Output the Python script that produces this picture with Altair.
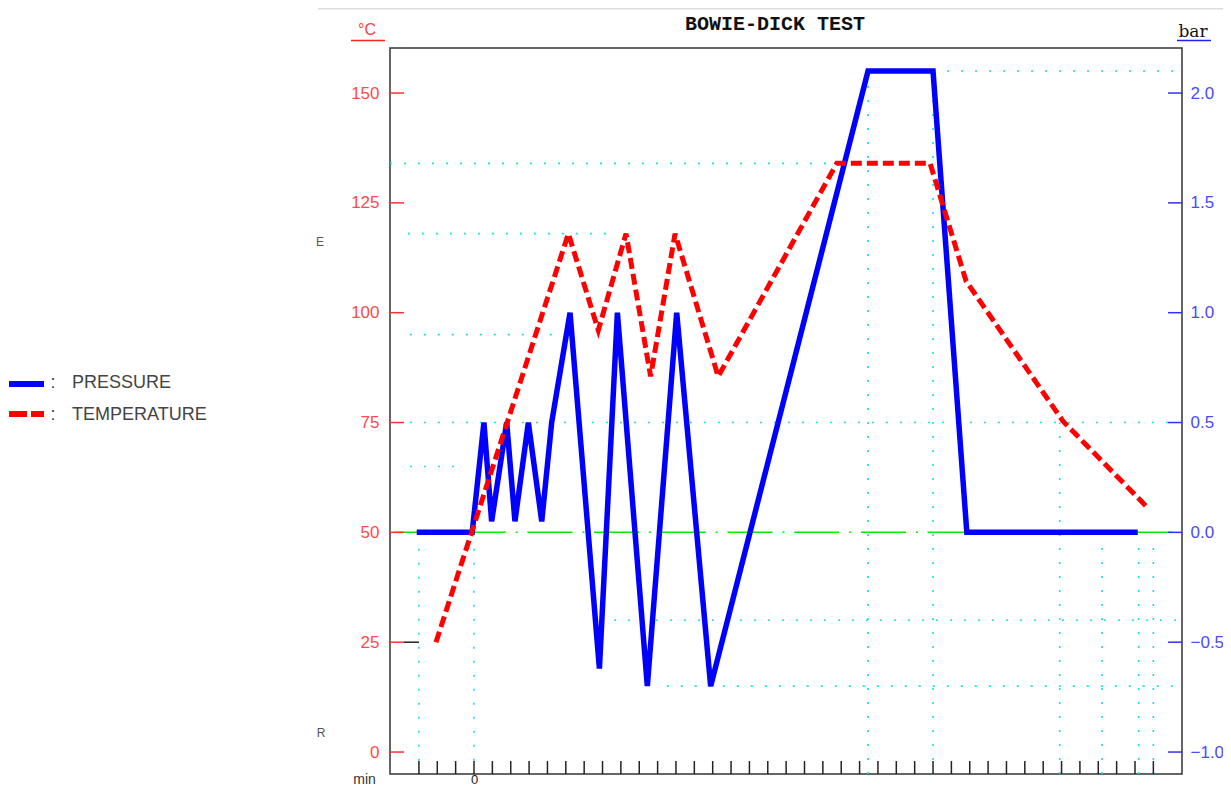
import altair as alt
import pandas as pd

# ---- data ----
# Pressure (bar) against time (min)
p_min = [-3.12, -0.1, 0.54, 0.96, 1.78, 2.23, 2.96, 3.69, 4.23, 5.23, 6.83, 7.81, 9.44, 11.04, 12.89, 21.46, 25.0, 26.84, 36.15]
p_bar = [0.0, 0.0, 0.5, 0.05, 0.5, 0.05, 0.5, 0.05, 0.5, 1.0, -0.62, 1.0, -0.7, 1.0, -0.7, 2.1, 2.1, 0.0, 0.0]

# Temperature (°C) against time (min)
t_min = [-2.07, 5.14, 6.77, 8.28, 9.62, 10.95, 13.3, 19.76, 24.84, 26.8, 32.08, 36.76]
t_c = [25, 118, 96, 118, 85.5, 118, 85.5, 134, 134, 107.2, 75.3, 55.3]

# axis values
temp_ticks = [0, 25, 50, 75, 100, 125, 150]
bar_ticks = [-1.0, -0.5, 0.0, 0.5, 1.0, 1.5, 2.0]
min_ticks = list(range(-3, 38))

# dotted reference grid segments (horizontal: level in °C, from/to minutes)
hg_T = [155, 134, 118, 95, 75, 65, 30, 15]
hg_m1 = [25.0, -4.575, -3.6, -3.5, -3.49, -3.49, 6.86, 10.5]
hg_m2 = [38.56, 19.76, 7.4, 4.5, 37.9, -1.03, 38.56, 38.56]
# vertical: minute, from/to °C
vg_m = [-3.0, 0.0, 21.46, 25.0, 31.9, 34.2, 36.2, 37.0]
vg_T1 = [-2, -2, -5, -5, -5, -5, -5, -5]
vg_T2 = [48, 48, 155, 155, 75, 48, 48, 48]

X_DOM = [-4.575, 38.56]
T_DOM = [-5, 160.25]
B_DOM = [-1.1, 2.205]

xs = alt.Scale(domain=X_DOM, nice=False, zero=False)
ts = alt.Scale(domain=T_DOM, nice=False, zero=False)
bs = alt.Scale(domain=B_DOM, nice=False, zero=False)

FONT = "Liberation Sans"

pres_df = pd.DataFrame({"min": p_min, "bar": p_bar})
temp_df = pd.DataFrame({"min": t_min, "T": t_c})
hg_df = pd.DataFrame({"T": hg_T, "m1": hg_m1, "m2": hg_m2})
vg_df = pd.DataFrame({"m": vg_m, "T1": vg_T1, "T2": vg_T2})
xt_df = pd.DataFrame({"m": min_ticks, "T1": [T_DOM[0]] * len(min_ticks), "T2": [-2.05] * len(min_ticks)})
lt_df = pd.DataFrame({"T": temp_ticks, "m1": [X_DOM[0]] * len(temp_ticks), "m2": [-3.81] * len(temp_ticks)})
ext_df = pd.DataFrame({"T": [25], "m1": [-3.81], "m2": [-3.0]})
rt_df = pd.DataFrame({"bar": bar_ticks, "m1": [37.8] * len(bar_ticks), "m2": [X_DOM[1]] * len(bar_ticks)})
zero_df = pd.DataFrame({"T": [50], "m1": [X_DOM[0]], "m2": [X_DOM[1]]})
one = pd.DataFrame({"a": [1]})

CYAN = "#10e0f0"

x_axis = alt.Axis(values=[0], ticks=False, domain=False, grid=False,
                  labelPadding=12.5, labelBaseline="bottom",
                  labelFontSize=13, labelFont=FONT, labelColor="#222",
                  title="min", titleX=-26, titleY=12.5, titleBaseline="bottom",
                  titleAlign="center", titleFontWeight="normal", titleFontSize=14,
                  titleFont=FONT, titleColor="#333")
left_axis = alt.Axis(values=temp_ticks, ticks=False, domain=False, grid=False,
                     labelColor="#ff4a4a", labelFontSize=17, labelFont=FONT,
                     labelPadding=11, title=None, orient="left")
right_axis = alt.Axis(values=bar_ticks, format=".1f", ticks=False, domain=False, grid=False,
                      labelColor="#4a4aff", labelFontSize=17, labelFont=FONT,
                      labelPadding=8, title=None, orient="right")


def X(f):
    return alt.X(f, scale=xs, axis=x_axis)


def Y(f):
    return alt.Y(f, scale=ts, axis=left_axis)


hgrid = alt.Chart(hg_df).mark_rule(color=CYAN, strokeWidth=1.6, strokeDash=[2, 12]).encode(
    x=X("m1:Q"), x2="m2:Q", y=Y("T:Q"))
vgrid = alt.Chart(vg_df).mark_rule(color=CYAN, strokeWidth=1.6, strokeDash=[2, 12]).encode(
    x=X("m:Q"), y=Y("T1:Q"), y2="T2:Q")
zero_line = alt.Chart(zero_df).mark_rule(color="#00ee00", strokeWidth=1.5,
                                         strokeDash=[45, 10, 2, 9.7], strokeDashOffset=62.7).encode(
    x=X("m1:Q"), x2="m2:Q", y=Y("T:Q"))
xticks = alt.Chart(xt_df).mark_rule(color="#222", strokeWidth=1.5).encode(
    x=X("m:Q"), y=Y("T1:Q"), y2="T2:Q")
lticks = alt.Chart(lt_df).mark_rule(color="#ff3030", strokeWidth=1.5).encode(
    x=X("m1:Q"), x2="m2:Q", y=Y("T:Q"))
ext = alt.Chart(ext_df).mark_rule(color="#222", strokeWidth=1.5).encode(
    x=X("m1:Q"), x2="m2:Q", y=Y("T:Q"))
pressure = alt.Chart(pres_df).transform_calculate(T="50 + 50 * datum.bar").mark_line(
    color="#0000ff", strokeWidth=5.5).encode(
    x=X("min:Q"), y=Y("T:Q"), order="min:Q")
temperature = alt.Chart(temp_df).mark_line(
    color="#ff0000", strokeWidth=5, strokeDash=[11, 5]).encode(
    x=X("min:Q"), y=Y("T:Q"), order="min:Q")


def txt(s, x, y, **kw):
    return alt.Chart(one).mark_text(text=s, **kw).encode(x=alt.value(x), y=alt.value(y))


def prule(x1, x2, y, **kw):
    return alt.Chart(one).mark_rule(**kw).encode(x=alt.value(x1), x2=alt.value(x2), y=alt.value(y))


annotations = [
    prule(-72, 841, -39.5, color="#dddddd", strokeWidth=2),
    txt("BOWIE-DICK TEST", 385, -24, font="Liberation Mono", fontSize=20, fontWeight="bold",
        color="#111", baseline="middle", align="center"),
    txt("°C", -23, -18, font=FONT, fontSize=16, color="#ff4040", baseline="middle", align="center"),
    prule(-39, -5, -7.5, color="#ff2020", strokeWidth=1.5),
    txt("bar", 803, -16, font="DejaVu Serif", fontSize=17, color="#111", baseline="middle", align="center"),
    prule(787, 821, -7.5, color="#2020ff", strokeWidth=1.5),
    txt("E", -70, 194, font=FONT, fontSize=12, color="#555", baseline="middle", align="center"),
    txt("R", -69, 685, font=FONT, fontSize=12, color="#555", baseline="middle", align="center"),
    prule(-381, -346, 336, color="#0000ff", strokeWidth=6),
    prule(-381, -346, 366, color="#ff0000", strokeWidth=6, strokeDash=[18, 4]),
    txt(":", -337, 335, font=FONT, fontSize=18, color="#444", baseline="middle", align="center"),
    txt(":", -337, 367, font=FONT, fontSize=18, color="#444", baseline="middle", align="center"),
    txt("PRESSURE", -318, 335, font=FONT, fontSize=18, color="#444", baseline="middle", align="left"),
    txt("TEMPERATURE", -318, 367, font=FONT, fontSize=18, color="#444", baseline="middle", align="left"),
]

main = alt.layer(hgrid, vgrid, zero_line, xticks, lticks, ext, pressure, temperature, *annotations)

rticks = alt.Chart(rt_df).mark_rule(color="#3030ff", strokeWidth=1.5).encode(
    x=X("m1:Q"), x2="m2:Q",
    y=alt.Y("bar:Q", scale=bs, axis=right_axis))

chart = alt.layer(main, rticks).resolve_scale(y="independent").properties(
    width=792, height=726,
    padding={"left": 382, "top": 40, "right": 41, "bottom": 13},
    autosize=alt.AutoSizeParams(type="none"),
).configure_view(stroke="#333", strokeWidth=1.5)

chart.save("out.html", embed_options={"renderer": "svg", "actions": False})
